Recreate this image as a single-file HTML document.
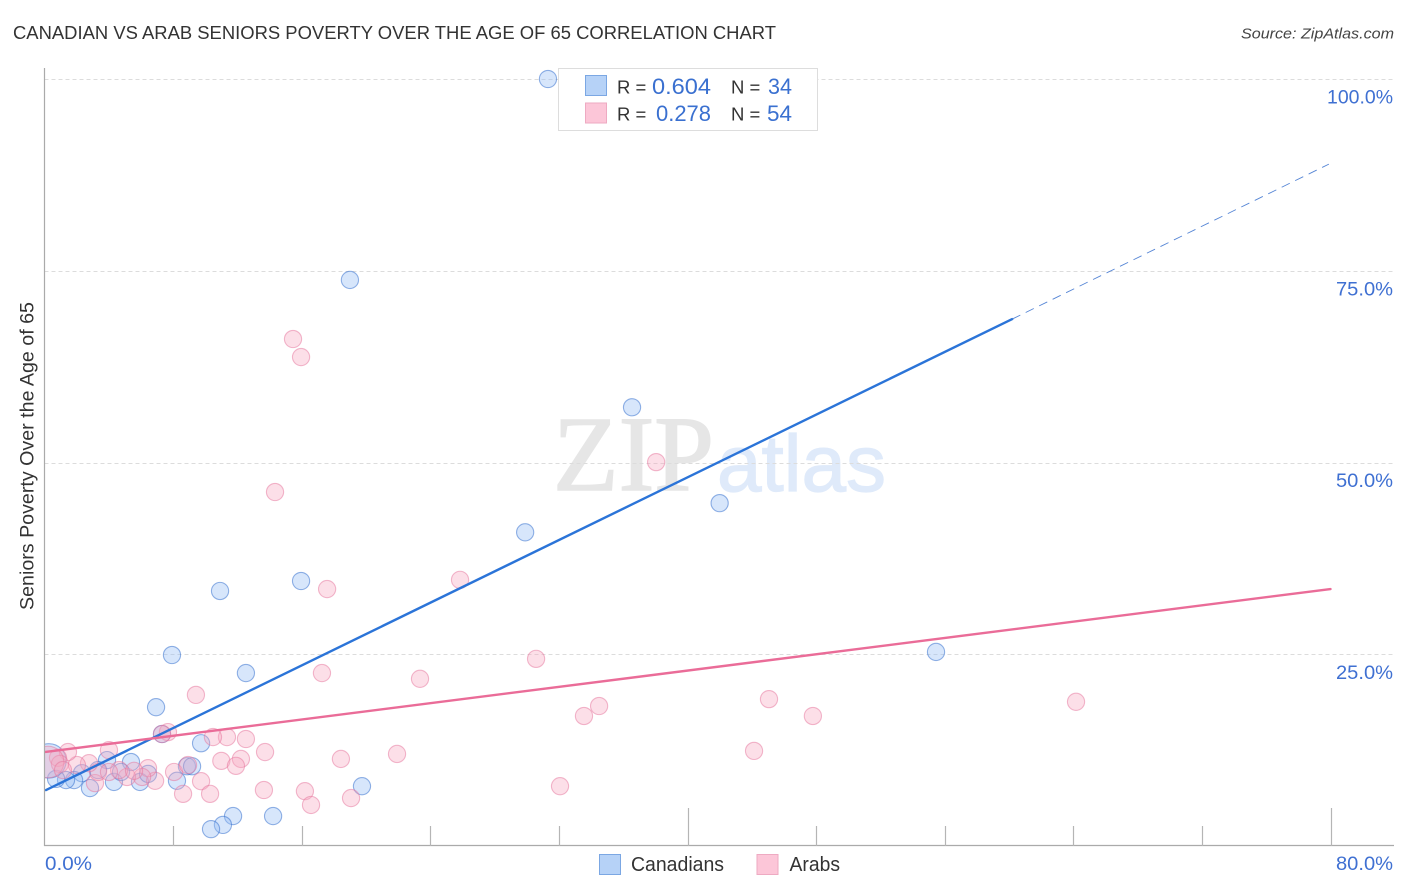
<!DOCTYPE html>
<html lang="en">
<head>
<meta charset="utf-8">
<title>Canadian vs Arab Seniors Poverty Over the Age of 65 Correlation Chart</title>
<style>
html,body{margin:0;padding:0;background:#fff;width:1406px;height:892px;overflow:hidden}
svg{display:block;font-family:"Liberation Sans",sans-serif}
</style>
</head>
<body>
<svg id="chart" xmlns="http://www.w3.org/2000/svg" width="1406" height="892" viewBox="0 0 1406 892">
  <defs>
    <clipPath id="plot-clip"><rect x="44.5" y="60" width="1350" height="786"/></clipPath>
  </defs>
  <rect x="0" y="0" width="1406" height="892" fill="#fff"/>
  <text x="13" y="39" font-size="18.5" fill="#333" textLength="763" lengthAdjust="spacingAndGlyphs">CANADIAN VS ARAB SENIORS POVERTY OVER THE AGE OF 65 CORRELATION CHART</text>
  <text x="1394" y="38.5" font-size="15" font-style="italic" fill="#444" text-anchor="end" textLength="153" lengthAdjust="spacingAndGlyphs">Source: ZipAtlas.com</text>
  <g>
    <text x="553" y="490" font-family="'Liberation Serif',serif" font-size="107" fill="#e6e6e6" stroke="#e6e6e6" stroke-width="1.6" textLength="161" lengthAdjust="spacingAndGlyphs">ZIP</text>
    <text x="717" y="491" font-size="80" fill="#dfeafa" stroke="#dfeafa" stroke-width="1.2" textLength="169" lengthAdjust="spacingAndGlyphs">atlas</text>
  </g>
  <g id="grid"></g>
  <g id="points" clip-path="url(#plot-clip)"></g>
  <g id="trends"></g>
  <g id="axes"></g>
  <text transform="translate(33.5,456) rotate(-90)" font-size="19" fill="#333" text-anchor="middle" textLength="308" lengthAdjust="spacingAndGlyphs">Seniors Poverty Over the Age of 65</text>

  <g>
    <rect x="558.5" y="68.5" width="259" height="62" fill="#fff" stroke="#ddd" stroke-width="1"/>
    <rect x="585.5" y="75.5" width="21" height="20" fill="#b6d2f7" stroke="#7ba7e3"/>
    <rect x="585.5" y="103" width="21" height="20" fill="#fcc6d8" stroke="#eeaac2"/>
    <text x="617" y="93.5" font-size="18.5" fill="#333">R =</text>
    <text x="652" y="94" font-size="22" fill="#3a70d0" textLength="59" lengthAdjust="spacingAndGlyphs">0.604</text>
    <text x="731" y="93.5" font-size="18.5" fill="#333">N =</text>
    <text x="768" y="94" font-size="22" fill="#3a70d0" textLength="24" lengthAdjust="spacingAndGlyphs">34</text>
    <text x="617" y="120.5" font-size="18.5" fill="#333">R =</text>
    <text x="656" y="121" font-size="22" fill="#3a70d0" textLength="55" lengthAdjust="spacingAndGlyphs">0.278</text>
    <text x="731" y="120.5" font-size="18.5" fill="#333">N =</text>
    <text x="767" y="121" font-size="22" fill="#3a70d0" textLength="25" lengthAdjust="spacingAndGlyphs">54</text>
  </g>

  <g>
    <rect x="599.5" y="854.5" width="21" height="20" fill="#b6d2f7" stroke="#7ba7e3"/>
    <text x="631" y="871" font-size="20" fill="#333" textLength="93" lengthAdjust="spacingAndGlyphs">Canadians</text>
    <rect x="757" y="854.5" width="21" height="20" fill="#fcc6d8" stroke="#eeaac2"/>
    <text x="789.5" y="871" font-size="20" fill="#333" textLength="50.5" lengthAdjust="spacingAndGlyphs">Arabs</text>
  </g>
</svg>
<script>
var xTicks = [0, 8, 16, 24, 32, 40, 48, 56, 64, 72, 80];
var xMajorTicks = [40, 80];
var xEdgeLabels = [0, 80];
var yTicks = [25, 50, 75, 100];

var canadianX = [31.32,19.0,36.55,42.0,29.9,15.96,10.92,7.93,12.53,55.46,6.94,7.31,9.74,8.86,9.18,5.38,3.89,4.32,4.76,5.94,6.44,2.83,3.33,2.33,1.84,1.34,0.72,8.24,19.75,14.22,11.73,11.1,10.36,0.28];
var canadianY = [100,73.8,57.2,44.7,40.9,34.55,33.25,24.9,22.55,25.3,18.1,14.6,13.4,10.4,10.4,10.95,11.2,8.35,9.65,8.35,9.4,7.55,9.9,9.5,8.6,8.6,8.75,8.5,7.8,3.9,3.9,2.75,2.2,11.1];
var canadianWeight = [1,1,1,1,1,1,1,1,1,1,1,1,1,1,1,1,1,1,1,1,1,1,1,1,1,1,1,1,1,1,1,1,1,4];

var arabX = [15.46,15.96,14.34,38.05,25.85,17.58,30.58,17.26,23.36,9.42,34.5,33.56,45.07,47.8,64.17,44.14,21.93,18.44,13.72,12.53,11.35,10.48,12.22,11.0,11.91,13.65,16.2,16.58,19.07,32.07,7.68,4.01,9.74,10.3,8.62,8.06,8.93,6.88,6.44,6.07,5.13,4.64,5.57,3.14,3.33,2.77,2.02,1.46,0.84,0.96,7.31,0.22,4.01,1.15];
var arabY = [66.1,63.75,46.15,50.05,34.7,33.5,24.4,22.55,21.8,19.7,18.25,16.95,19.15,16.95,18.8,12.4,12.0,11.35,12.25,13.95,14.2,14.2,11.35,11.1,10.45,7.3,7.15,5.35,6.25,7.8,14.85,12.5,8.45,6.8,6.8,9.65,10.55,8.5,10.15,9.0,9.0,9.9,9.8,8.2,9.65,10.8,10.55,12.25,11.5,10.7,14.6,10.95,9.65,9.9];
var arabWeight = [1,1,1,1,1,1,1,1,1,1,1,1,1,1,1,1,1,1,1,1,1,1,1,1,1,1,1,1,1,1,1,1,1,1,1,1,1,1,1,1,1,1,1,1,1,1,1,1,1,1,1,3.4,1,1];

var canadianTrendX = [0, 60.2, 79.9];
var canadianTrendY = [7.2, 68.7, 88.9];
var arabTrendX = [0, 80];
var arabTrendY = [12.26, 33.5];

var SVG_NS = 'http://www.w3.org/2000/svg';
function xScale(v) { return 44.5 + v * 16.075; }
function yScale(v) { return 846 - v * 7.67; }
function labelWidth(text) { return text.length >= 6 ? 66 : (text.length === 5 ? 57 : 47); }
function node(parent, tag, attrs, text) {
  var el = document.createElementNS(SVG_NS, tag);
  for (var k in attrs) el.setAttribute(k, attrs[k]);
  if (text !== undefined) el.textContent = text;
  parent.appendChild(el);
  return el;
}
var gridG = document.getElementById('grid');
var axesG = document.getElementById('axes');
var pointsG = document.getElementById('points');
var trendsG = document.getElementById('trends');

yTicks.forEach(function (t) {
  var y = Math.round(yScale(t)) + 0.5;
  var line = node(gridG, 'line', {x1: 44.5, x2: 1394, y1: y, y2: y, stroke: '#dcdcdc', 'stroke-width': 1, 'stroke-dasharray': '4 3'});
  
  
  var str = t.toFixed(1) + '%';
  var label = node(axesG, 'text', {x: 1393, y: yScale(t) + 24.5, 'font-size': 19, fill: '#3f70d2', 'text-anchor': 'end', textLength: labelWidth(str), lengthAdjust: 'spacingAndGlyphs'}, str);
  
  
});

var yAxis = node(axesG, 'line', {x1: 44.5, x2: 44.5, y1: 68, y2: 846, stroke: '#aaa', 'stroke-width': 1.2});


var xAxis = node(axesG, 'line', {x1: 44, x2: 1394, y1: 845.5, y2: 845.5, stroke: '#aaa', 'stroke-width': 1.2});



xTicks.forEach(function (t) {
  if (t === 0) return;
  var x = Math.round(xScale(t)) + 0.5;
  var top = xMajorTicks.indexOf(t) >= 0 ? 808 : 826;
  var tick = node(axesG, 'line', {x1: x, x2: x, y1: top, y2: 846, stroke: '#b5b5b5', 'stroke-width': 1.2});
  
  
});

xEdgeLabels.forEach(function (t, i) {
  var str = t.toFixed(1) + '%';
  var label = node(axesG, 'text', {
    x: i === 0 ? xScale(t) + 0.5 : 1393,
    y: 870,
    'font-size': 19,
    fill: '#3f70d2',
    'text-anchor': i === 0 ? 'start' : 'end',
    textLength: labelWidth(str),
    lengthAdjust: 'spacingAndGlyphs'
  }, str);
  
  
});

function drawSeries(xs, ys, ws, fill, stroke) {
  xs.forEach(function (v, i) {
    var c = node(pointsG, 'circle', {
      cx: xScale(v),
      cy: yScale(ys[i]),
      r: 8.6 * Math.sqrt(ws[i]),
      fill: fill,
      stroke: stroke,
      'stroke-width': 1.1
    });
    
    
  });
}
drawSeries(canadianX, canadianY, canadianWeight, 'rgba(150,190,245,0.38)', 'rgba(50,110,205,0.52)');
drawSeries(arabX, arabY, arabWeight, 'rgba(248,165,190,0.36)', 'rgba(230,115,155,0.5)');

var blueSolid = node(trendsG, 'line', {
  x1: xScale(canadianTrendX[0]) + 1.5, y1: yScale(canadianTrendY[0]) - 0.7,
  x2: xScale(canadianTrendX[1]), y2: yScale(canadianTrendY[1]),
  stroke: '#2b74d8', 'stroke-width': 2.4, 'stroke-linecap': 'round'
});


var blueDash = node(trendsG, 'line', {
  x1: xScale(canadianTrendX[1]), y1: yScale(canadianTrendY[1]),
  x2: xScale(canadianTrendX[2]), y2: yScale(canadianTrendY[2]),
  stroke: '#5585d5', 'stroke-width': 0.9, 'stroke-dasharray': '9 6'
});


var pinkLine = node(trendsG, 'line', {
  x1: xScale(arabTrendX[0]) + 1, y1: yScale(arabTrendY[0]),
  x2: xScale(arabTrendX[1]), y2: yScale(arabTrendY[1]),
  stroke: '#ea6c98', 'stroke-width': 2.4, 'stroke-linecap': 'round'
});


</script>
</body>
</html>
